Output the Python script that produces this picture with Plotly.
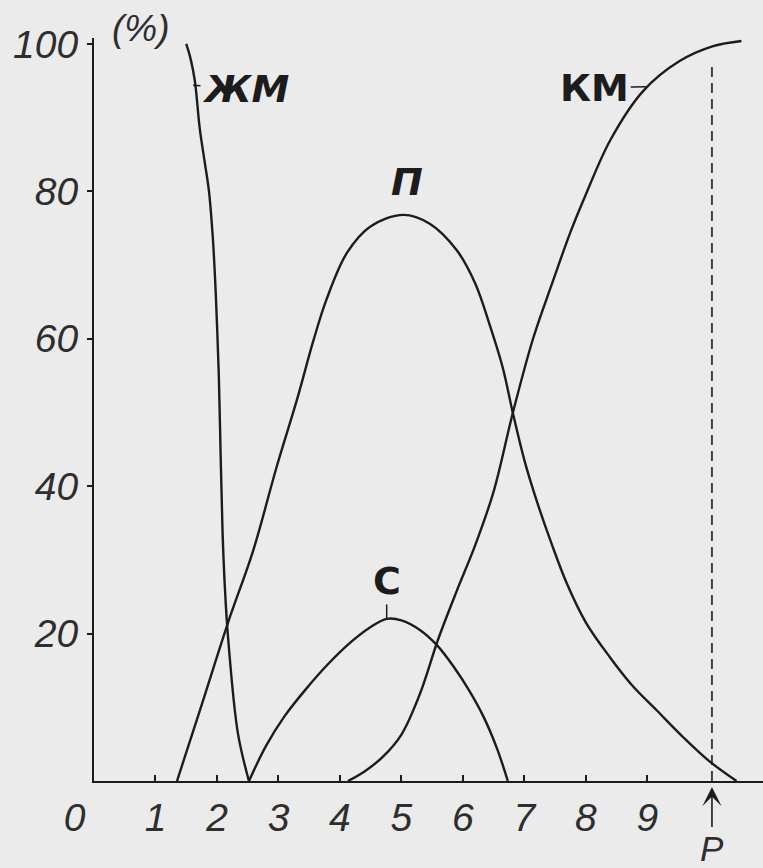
import plotly.graph_objects as go

# ---- data ----
zhm_x = [1.50, 1.57, 1.64, 1.72, 1.80, 1.87, 1.93, 1.97, 2.00, 2.03, 2.06, 2.09, 2.13, 2.18, 2.34, 2.52]
zhm_y = [100, 98, 95, 88.5, 84, 80, 74, 68, 62, 55, 44, 34, 26, 19.5, 6.5, 0]

p_x = [1.35, 1.75, 2.18, 2.59, 2.97, 3.30, 3.57, 3.78, 4.11, 4.49, 5.03, 5.46, 5.90, 6.20, 6.45, 6.65, 6.81,
       7.00, 7.20, 7.45, 7.69, 8.00, 8.39, 8.75, 9.15, 9.60, 10.02, 10.45]
p_y = [0, 10.3, 21.5, 31.3, 42.6, 51.7, 59.8, 65.3, 71.6, 75.2, 76.8, 75.6, 72, 67.5, 61.5, 56, 50,
       43.5, 38, 32, 26.8, 21.5, 16.8, 13, 9.6, 5.8, 2.6, 0]

c_x = [2.52, 2.80, 3.10, 3.45, 3.80, 4.20, 4.50, 4.76, 5.00, 5.30, 5.57, 5.85, 6.10, 6.33, 6.55, 6.73]
c_y = [0, 4.8, 8.8, 12.5, 15.8, 19, 20.9, 22, 21.8, 20.5, 18.5, 15.5, 12.3, 8.8, 4.5, 0]

km_x = [4.13, 4.40, 4.70, 5.00, 5.30, 5.60, 5.90, 6.20, 6.50, 6.81, 7.14, 7.45, 7.75, 7.98, 8.40, 8.93, 9.53, 10.07, 10.53]
km_y = [0, 1.3, 3.3, 6.3, 11.8, 19.3, 25.8, 32, 39.3, 49.9, 60, 67.5, 74.5, 79.2, 87, 93.6, 97.7, 99.7, 100.4]

p_value = 10.05          # position of the "P" mark on the x axis
p_line_y = [0, 97.5]     # extent of the dashed guide line

x_tickvals = [0, 1, 2, 3, 4, 5, 6, 7, 8, 9]
x_ticktext = ["0\u2003", "1", "2", "3", "4", "5", "6", "7", "8", "9"]
y_tickvals = [20, 40, 60, 80, 100]
y_ticktext = ["20", "40", "60", "80", "100"]

LINE = "#1c1c1c"
TXT = "#2e2e2e"
BG = "#ebebeb"
FONT = "Liberation Sans"
LFONT = "DejaVu Sans"

fig = go.Figure()
for xs, ys in [(zhm_x, zhm_y), (p_x, p_y), (c_x, c_y), (km_x, km_y)]:
    fig.add_trace(go.Scatter(x=xs, y=ys, mode="lines",
                             line=dict(color=LINE, width=2.4, shape="spline", smoothing=1.0),
                             hoverinfo="skip"))
fig.add_trace(go.Scatter(x=[p_value, p_value], y=p_line_y, mode="lines",
                         line=dict(color=LINE, width=1.6, dash="10px,6px"), hoverinfo="skip"))

lab_font = dict(family=LFONT, size=38, color=LINE, weight="bold")
fig.add_annotation(x=1.61, y=94.4, text="ЖМ", showarrow=True, arrowhead=0, arrowwidth=1.5,
                   arrowcolor=LINE, ax=53, ay=4, font=dict(lab_font, style="italic"))
fig.add_annotation(x=8.99, y=94.2, text="КМ", showarrow=True, arrowhead=0, arrowwidth=1.5,
                   arrowcolor=LINE, ax=-52, ay=1, font=lab_font)
fig.add_annotation(x=5.09, y=81.3, text="П", showarrow=False, font=dict(lab_font, style="italic"))
fig.add_annotation(x=4.76, y=22.1, text="С", showarrow=True, arrowhead=0, arrowwidth=1.5,
                   arrowcolor=LINE, ax=0, ay=-37, font=lab_font)
fig.add_annotation(x=0.77, xref="x", y=1.013, yref="paper", yanchor="middle", text="(%)",
                   showarrow=False, font=dict(family=FONT, size=37, color=TXT, style="italic"))
fig.add_annotation(x=p_value, y=0, text="P", showarrow=True, arrowhead=3, arrowsize=2,
                   arrowwidth=1.6, arrowcolor=LINE, ax=0, ay=67, standoff=6,
                   font=dict(family=FONT, size=35, color=TXT, style="italic"))

tick_font = dict(family=FONT, size=39, color=TXT, style="italic")
fig.update_xaxes(range=[0, 10.88], showline=True, linecolor=LINE, linewidth=2,
                 ticks="inside", ticklen=6, tickwidth=1.5, tickcolor=LINE,
                 tickvals=x_tickvals, ticktext=x_ticktext, tickfont=tick_font,
                 ticklabelstandoff=1, showgrid=False, zeroline=False)
fig.update_yaxes(range=[0, 100.8], showline=True, linecolor=LINE, linewidth=2,
                 ticks="outside", ticklen=5, tickwidth=1.5, tickcolor=LINE,
                 tickvals=y_tickvals, ticktext=y_ticktext, tickfont=tick_font,
                 ticklabelstandoff=1, showgrid=False, zeroline=False)
fig.update_layout(width=763, height=868, margin=dict(l=94, r=0, t=38, b=87),
                  paper_bgcolor=BG, plot_bgcolor=BG, showlegend=False)
fig.write_html("out.html", config={"displayModeBar": False},
               post_script="document.body.style.margin='0';document.body.style.background='%s';" % BG)
